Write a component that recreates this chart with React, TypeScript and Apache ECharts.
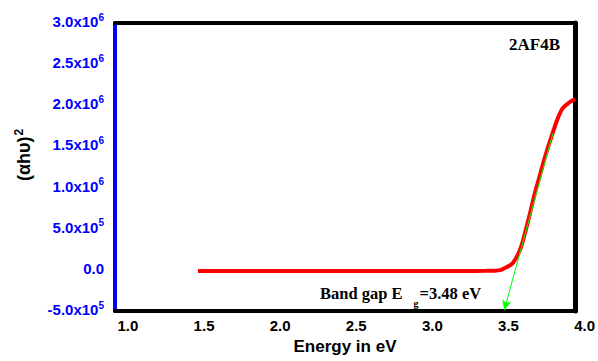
import React, { useEffect, useRef } from "react";
import * as echarts from "echarts";

// Tauc plot data: photon energy (eV) vs (αhυ)^2
const energy = [1.46, 2.0, 2.5, 3.0, 3.2, 3.35, 3.4, 3.45, 3.475, 3.5, 3.528, 3.574, 3.607, 3.64, 3.672, 3.705, 3.738, 3.784, 3.823, 3.856, 3.902, 3.935];
const alphaHv2 = [-15000, -15000, -15000, -14000, -13000, -12000, -10000, 0, 23000, 47000, 84000, 243000, 450000, 692000, 935000, 1153000, 1372000, 1640000, 1846000, 1968000, 2040000, 2077000];

// tangent (extrapolation) line with arrow
const tangentStart = [3.79, 1660000];
const tangentEnd = [3.47, -490000];

const xMin = 0.915;
const xMaxPlot = 3.935;
const xMaxLabels = 4.0;
const yMin = -500000;
const yMax = 3000000;
const yInterval = 500000;

const sampleLabel = "2AF4B";
const bandGapLabel = "{t|Band gap E}{sub|g}{t|=3.48 eV}";
const xTitle = "Energy in eV";
const yTitle = "(αhυ){sup|2}";

function yFormatter(v: number): string {
  if (v === 0) return "{b|0.0}";
  const exp = Math.floor(Math.log10(Math.abs(v)) + 1e-9);
  const m = v / Math.pow(10, exp);
  return "{b|" + m.toFixed(1) + "x10}{sup|" + exp + "}";
}

function xFormatter(v: number): string {
  const d = v * 2;
  if (Math.abs(d - Math.round(d)) < 1e-6) return v.toFixed(1);
  return "";
}

export default function App() {
  const ref = useRef<HTMLDivElement>(null);
  useEffect(() => {
    if (!ref.current) return;
    const chart = echarts.init(ref.current, null, { renderer: "svg" });
    const sans = "Liberation Sans, Arial, sans-serif";
    const serif = "Liberation Serif, Times New Roman, serif";
    chart.setOption({
      animation: false,
      backgroundColor: "#ffffff",
      grid: [
        { left: 115, right: 23, top: 23, bottom: 50 },
        { left: 115, right: 13, top: 23, bottom: 50 },
      ],
      xAxis: [
        {
          type: "value",
          gridIndex: 0,
          min: xMin,
          max: xMaxPlot,
          position: "bottom",
          axisLine: { show: true, onZero: false, lineStyle: { color: "#000", width: 4 } },
          axisTick: { show: false },
          axisLabel: { show: false },
          splitLine: { show: false },
          name: xTitle,
          nameLocation: "middle",
          nameGap: 27,
          nameTextStyle: { fontFamily: sans, fontWeight: "bold", fontSize: 17, color: "#000" },
        },
        {
          type: "value",
          gridIndex: 0,
          min: xMin,
          max: xMaxPlot,
          position: "top",
          axisLine: { show: true, onZero: false, lineStyle: { color: "#000", width: 4 } },
          axisTick: { show: false },
          axisLabel: { show: false },
          splitLine: { show: false },
        },
        {
          type: "value",
          gridIndex: 1,
          min: xMin,
          max: xMaxLabels,
          position: "bottom",
          axisLine: { show: false, onZero: false },
          axisTick: { show: false },
          splitLine: { show: false },
          axisLabel: {
            show: true,
            margin: 7,
            formatter: xFormatter,
            fontFamily: sans,
            fontWeight: "bold",
            fontSize: 15,
            color: "#000",
            showMinLabel: true,
            showMaxLabel: true,
          },
        },
      ],
      yAxis: [
        {
          type: "value",
          gridIndex: 0,
          min: yMin,
          max: yMax,
          interval: yInterval,
          position: "left",
          axisLine: { show: true, onZero: false, lineStyle: { color: "#0000ff", width: 4 } },
          axisTick: { show: false },
          splitLine: { show: false },
          axisLabel: {
            margin: 11,
            formatter: yFormatter,
            color: "#0000ff",
            padding: [0, 0, 5, 0],
            rich: {
              b: { fontFamily: sans, fontWeight: "bold", fontSize: 15, color: "#0000ff", verticalAlign: "bottom", lineHeight: 17 },
              sup: { fontFamily: sans, fontWeight: "bold", fontSize: 10, color: "#0000ff", verticalAlign: "top", lineHeight: 10 },
            },
          },
        },
        {
          type: "value",
          gridIndex: 0,
          min: yMin,
          max: yMax,
          interval: yInterval,
          position: "right",
          axisLine: { show: true, onZero: false, lineStyle: { color: "#000", width: 5 } },
          axisTick: { show: false },
          axisLabel: { show: false },
          splitLine: { show: false },
        },
        {
          type: "value",
          gridIndex: 1,
          min: yMin,
          max: yMax,
          show: false,
        },
      ],
      series: [
        {
          type: "line",
          xAxisIndex: 0,
          yAxisIndex: 0,
          data: energy.map((e, i) => [e, alphaHv2[i]]),
          showSymbol: false,
          symbol: "none",
          smooth: 0.3,
          lineStyle: { color: "#ff0000", width: 4 },
          z: 3,
          markLine: {
            silent: true,
            symbol: ["none", "arrow"],
            symbolSize: [7, 10],
            label: { show: false },
            lineStyle: { color: "#00ff00", width: 1, type: "solid" },
            data: [[{ coord: tangentStart }, { coord: tangentEnd }]],
            z: 4,
          },
        },
      ],
      graphic: [
        {
          type: "text",
          left: 509,
          top: 36,
          style: { text: sampleLabel, fontFamily: serif, fontWeight: "bold", fontSize: 17, fill: "#000" },
        },
        {
          type: "text",
          x: 320,
          y: 285,
          style: {
            text: bandGapLabel,
            fontFamily: serif,
            fontWeight: "bold",
            fontSize: 16.5,
            fill: "#000",
            rich: {
              t: { fontFamily: serif, fontWeight: "bold", fontSize: 16.5, fill: "#000", verticalAlign: "top", lineHeight: 18 },
              sub: { fontFamily: serif, fontWeight: "bold", fontSize: 10, fill: "#000", verticalAlign: "top", lineHeight: 10, padding: [13, 1, 0, 11] },
            },
          },
        },
        {
          type: "text",
          x: 24,
          y: 155,
          rotation: Math.PI / 2,
          style: {
            text: yTitle,
            fontFamily: sans,
            fontWeight: "bold",
            fontSize: 18,
            fill: "#000",
            align: "center",
            verticalAlign: "middle",
            rich: {
              sup: { fontFamily: sans, fontWeight: "bold", fontSize: 12, fill: "#000", verticalAlign: "top", padding: [0, 0, 10, 1] },
            },
          },
        },
      ],
    });
    return () => chart.dispose();
  }, []);
  return <div ref={ref} style={{ position: "absolute", left: 0, top: 0, width: 598, height: 361 }} />;
}
